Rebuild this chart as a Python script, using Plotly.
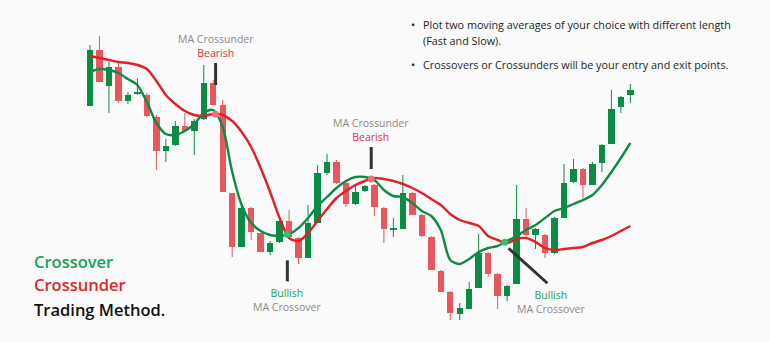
import plotly.graph_objects as go

# ---------------- data ----------------
opens  = [294,350,314,333,299,306,305,283,249,255,274,269,281,317,295,207,153,192,167,148,
          158,179,162,142,177,227,238,217,196,209,215,192,170,171,207,185,163,129,108,86,
          91,112,147,126,104,116,181,165,165,147,182,218,231,215,237,256,293,305]
closes = [350,318,333,299,305,308,284,249,254,274,269,279,317,295,208,153,192,168,148,157,
          179,163,142,177,227,238,217,196,208,214,193,171,172,207,185,164,130,108,87,92,
          111,147,126,104,114,181,165,171,147,182,217,231,215,236,255,291,303,310]
highs  = [355,364,338,338,308,322,307,285,261,279,287,281,335,320,300,207,194,193,167,159,
          180,190,163,195,235,246,240,218,215,215,216,193,182,225,208,186,164,130,109,97,
          118,166,148,127,115,215,192,172,166,183,236,241,232,238,256,310,304,316]
lows   = [294,318,287,297,296,305,283,230,238,254,269,245,280,295,208,143,153,160,148,145,
          157,162,136,142,177,225,216,193,195,208,184,157,163,171,185,163,130,108,80,80,
          91,112,123,91,99,116,164,151,142,146,182,217,202,215,228,256,287,297]
fast_ma = [328,331,330,327,321,315,298,277,266,265,269,276,287,290,273,228,195,177,169,165,
           164,166,172,182,194,203,212,219,223,223,220,210,204,203,197,189,184,170,140,136,
           141,148,152,154,159,164,170,175,182,189,192,196,200,205,215,228,242,257]
slow_ma = [344,342,340,338,337,335,331,319,305,296,289,285,284,286,285,279,268,253,232,208,
           182,162,159,167,179,191,202,209,215,219,222,221,219,216,212,207,201,195,186,180,
           177,174,164,160,157,161,162,158,152,150,151,152,153,157,160,164,169,174]
# segments (candle index) in which the annotated crosses happen
events = [(13, "bear"), (20, "bull"), (29, "bear"), (43, "bull")]

n = len(opens)
idx = list(range(n))

GREEN = "#0b8c45"
RED = "#e9575e"
GLINE = "#0f8a44"
RLINE = "#e31e26"
BG = "#fafafa"
GREY = "#8a8a8a"
FONT = "Open Sans"

fig = go.Figure()

# wicks
for col, up in ((GREEN, True), (RED, False)):
    wx, wy = [], []
    for i in idx:
        if (closes[i] >= opens[i]) == up:
            wx += [i, i, None]
            wy += [lows[i], highs[i], None]
    fig.add_trace(go.Scatter(x=wx, y=wy, mode="lines", line=dict(color=col, width=1),
                             hoverinfo="skip", showlegend=False))

# bodies
base = [min(o, c) for o, c in zip(opens, closes)]
height = [max(abs(c - o), 1.5) for o, c in zip(opens, closes)]
colors = [GREEN if c >= o else RED for o, c in zip(opens, closes)]
fig.add_trace(go.Bar(x=idx, y=height, base=base, width=0.68,
                     marker=dict(color=colors, line=dict(width=0)), showlegend=False))

# moving averages
fig.add_trace(go.Scatter(x=idx, y=slow_ma, mode="lines",
                         line=dict(color=RLINE, width=2.4, shape="spline", smoothing=0.8),
                         showlegend=False))
fig.add_trace(go.Scatter(x=idx, y=fast_ma, mode="lines",
                         line=dict(color=GLINE, width=2.4, shape="spline", smoothing=0.8),
                         showlegend=False))

shapes = []
annotations = []

for seg, kind in events:
    d0 = fast_ma[seg] - slow_ma[seg]
    d1 = fast_ma[seg + 1] - slow_ma[seg + 1]
    f = d0 / (d0 - d1)
    cx = seg + f
    cy = fast_ma[seg] + f * (fast_ma[seg + 1] - fast_ma[seg])
    dot_col = "#f07076" if kind == "bear" else "#35c06c"
    fig.add_trace(go.Scatter(x=[cx], y=[cy], mode="markers",
                             marker=dict(color=dot_col, size=7), showlegend=False))
    if kind == "bear":
        if seg == 13:
            y0, y1 = 337, 315
        else:
            y0, y1 = cy + 32, cy + 10
        shapes.append(dict(type="line", xref="x", yref="y", x0=cx, x1=cx, y0=y0, y1=y1,
                           line=dict(color="#333333", width=3)))
        annotations.append(dict(
            x=cx, y=y0 + 17, xref="x", yref="y", yanchor="middle",
            text=f"<span style='color:{GREY}'>MA Crossunder</span><br>"
                 f"<span style='color:#e0313a'>Bearish</span>",
            showarrow=False, font=dict(family=FONT, size=10.5, color=GREY)))
    else:
        if seg == 20:
            x0, x1 = cx, cx
            y0, y1 = cy - 26, cy - 47
            tx = cx
        else:
            x0, x1 = cx + 0.4, cx + 4.5
            y0, y1 = cy - 6, cy - 41
            tx = x1 + 0.4
        shapes.append(dict(type="line", xref="x", yref="y", x0=x0, x1=x1, y0=y0, y1=y1,
                           line=dict(color="#333333", width=3)))
        annotations.append(dict(
            x=tx, y=y1 - 19, xref="x", yref="y", yanchor="middle",
            text=f"<span style='color:#17a05a'>Bullish</span><br>"
                 f"<span style='color:{GREY}'>MA Crossover</span>",
            showarrow=False, font=dict(family=FONT, size=10.5, color=GREY)))

W, H = 770, 342

def px(x):
    return x / W

def py(y):
    return 1 - y / H

# left title block
for text, col, yy in (("Crossover", "#17a05a", 261), ("Crossunder", "#e3262b", 284),
                      ("Trading Method.", "#111111", 309)):
    annotations.append(dict(x=px(32), y=py(yy), xref="paper", yref="paper", text=text,
                            xanchor="left", yanchor="middle", showarrow=False,
                            font=dict(family=FONT, size=16.5, color=col, weight=600)))

# bullet notes
for bullet, text, yy in ((True, "Plot two moving averages of your choice with different length", 25),
                         (False, "(Fast and Slow).", 41),
                         (True, "Crossovers or Crossunders will be your entry and exit points.", 64)):
    if bullet:
        annotations.append(dict(x=px(413), y=py(yy), xref="paper", yref="paper", text="•",
                                xanchor="center", yanchor="middle", showarrow=False,
                                font=dict(family=FONT, size=11, color="#222222")))
    annotations.append(dict(x=px(421), y=py(yy), xref="paper", yref="paper", text=text,
                            xanchor="left", yanchor="middle", showarrow=False,
                            font=dict(family=FONT, size=10.8, color="#1e1e1e")))

# x scale: ~9.48 px per candle, first candle near x = 90 px
step = 9.48
x_lo = -90 / step
x_hi = x_lo + W / step

fig.update_layout(
    width=W, height=H, margin=dict(l=0, r=0, t=0, b=0),
    paper_bgcolor=BG, plot_bgcolor=BG,
    xaxis=dict(range=[x_lo, x_hi], visible=False, fixedrange=True),
    yaxis=dict(range=[58, 400], visible=False, fixedrange=True),
    shapes=shapes, annotations=annotations, showlegend=False, bargap=0,
)

fig.write_html("out.html")
